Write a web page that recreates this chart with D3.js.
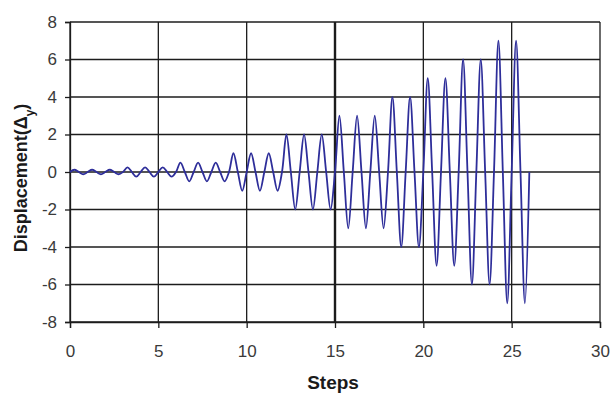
<!DOCTYPE html>
<html>
<head>
<meta charset="utf-8">
<script src="https://cdn.jsdelivr.net/npm/d3@7"></script>
<style>
  html, body { margin: 0; padding: 0; background: #fff; }
  svg { display: block; }
</style>
</head>
<body>
<div id="my_dataviz"></div>
<script>
// one entry per loading cycle (each cycle is one step long)
const cycleSteps = [0, 1, 2, 3, 4, 5, 6, 7, 8, 9, 10, 11, 12, 13, 14, 15, 16, 17, 18, 19, 20, 21, 22, 23, 24, 25];
const peakValues = [0.12, 0.12, 0.12, 0.25, 0.25, 0.25, 0.5, 0.5, 0.5, 1, 1, 1, 2, 2, 2, 3, 3, 3, 4, 4, 5, 5, 6, 6, 7, 7];
const troughValues = [-0.12, -0.12, -0.12, -0.25, -0.25, -0.25, -0.5, -0.5, -0.5, -1, -1, -1, -2, -2, -2, -3, -3, -3, -4, -4, -5, -5, -6, -6, -7, -7];
const endStep = 26;

const xTicks = [0, 5, 10, 15, 20, 25, 30];
const yTicks = [-8, -6, -4, -2, 0, 2, 4, 6, 8];

// set the dimensions and margins
const margin = { top: 22, right: 10, bottom: 72, left: 70 },
  width = 610 - margin.left - margin.right,
  height = 394 - margin.top - margin.bottom;

const svg = d3.select("#my_dataviz")
  .append("svg")
  .attr("width", 610)
  .attr("height", 394)
  .append("g")
  .attr("transform", `translate(${margin.left},${margin.top})`);

const x = d3.scaleLinear().domain([0, 30]).range([0, width]);
const y = d3.scaleLinear().domain([-8, 8]).range([height, 0]);

// grid lines
svg.append("g")
  .selectAll("line")
  .data(yTicks)
  .join("line")
  .attr("x1", 0)
  .attr("x2", width)
  .attr("y1", d => y(d))
  .attr("y2", d => y(d))
  .attr("stroke", "#1c1c1c")
  .attr("stroke-width", 1.3);

svg.append("g")
  .selectAll("line")
  .data(xTicks)
  .join("line")
  .attr("x1", d => x(d))
  .attr("x2", d => x(d))
  .attr("y1", 0)
  .attr("y2", height)
  .attr("stroke", "#1c1c1c")
  .attr("stroke-width", d => d === 15 ? 2.4 : 1.3);

// axes (plain hyphen for negatives, like the original)
const fmt = d => String(d);
const xAxis = svg.append("g")
  .attr("transform", `translate(0,${height})`)
  .call(d3.axisBottom(x).tickValues(xTicks).tickFormat(fmt).tickSize(6).tickPadding(17));

const yAxis = svg.append("g")
  .call(d3.axisLeft(y).tickValues(yTicks).tickFormat(fmt).tickSize(5).tickPadding(8));

[xAxis, yAxis].forEach(a => {
  a.select(".domain").attr("stroke", "#1c1c1c").attr("stroke-width", 1.3);
  a.selectAll(".tick line").attr("stroke", "#1c1c1c").attr("stroke-width", 1.3);
  a.selectAll(".tick text")
    .attr("fill", "#3a3a3a")
    .style("font-family", "'Liberation Sans', Arial, sans-serif")
    .style("font-size", "17px");
});

// build the loading history from the cycle values
const points = [];
cycleSteps.forEach((s, i) => {
  points.push([s, 0]);
  points.push([s + 0.25, peakValues[i]]);
  points.push([s + 0.5, 0]);
  points.push([s + 0.75, troughValues[i]]);
});
points.push([endStep, 0]);

svg.append("path")
  .datum(points)
  .attr("fill", "none")
  .attr("stroke", "#2e2e9a")
  .attr("stroke-width", 1.8)
  .attr("stroke-linejoin", "round")
  .attr("d", d3.line()
    .x(d => x(d[0]))
    .y(d => y(d[1]))
    .curve(d3.curveCatmullRom));

// axis titles
svg.append("text")
  .attr("x", x(15) - 2)
  .attr("y", height + 67)
  .attr("text-anchor", "middle")
  .attr("fill", "#1a1a1a")
  .style("font-family", "'Liberation Sans', Arial, sans-serif")
  .style("font-size", "19px")
  .style("font-weight", "bold")
  .text("Steps");

const yTitle = svg.append("text")
  .attr("transform", `translate(${-43},${y(0) + 6}) rotate(-90)`)
  .attr("text-anchor", "middle")
  .attr("fill", "#1a1a1a")
  .style("font-family", "'Liberation Sans', Arial, sans-serif")
  .style("font-size", "18px")
  .style("font-weight", "bold");
yTitle.append("tspan").text("Displacement(Δ");
yTitle.append("tspan").attr("baseline-shift", "sub").style("font-size", "12px").text("y");
yTitle.append("tspan").text(")");
</script>
</body>
</html>
